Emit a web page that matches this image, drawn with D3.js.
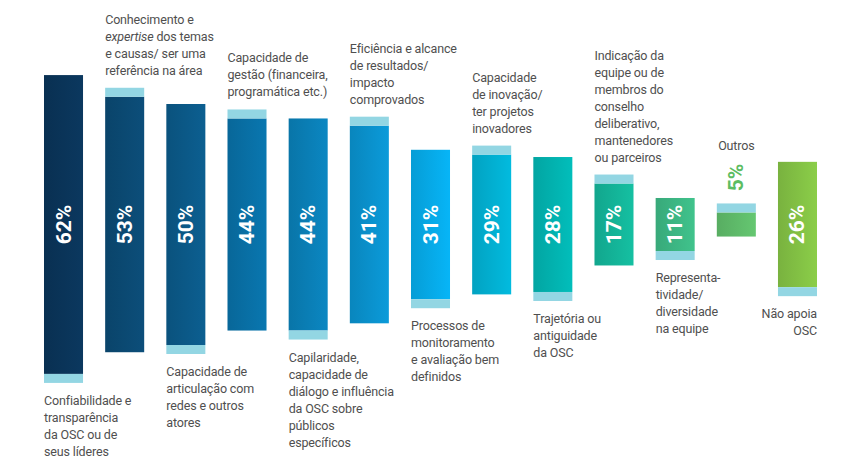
<!DOCTYPE html>
<html>
<head>
<meta charset="utf-8">
<script src="https://cdn.jsdelivr.net/npm/d3@7"></script>
<style>
  html, body { margin: 0; padding: 0; background: #fff; }
  svg { display: block; }
</style>
</head>
<body>
<div id="chart"></div>
<script>
// ---------- DATA ----------
const categories = [
  ["Confiabilidade e", "transparência", "da OSC ou de", "seus líderes"],
  ["Conhecimento e", "*expertise* dos temas", "e causas/ ser uma", "referência na área"],
  ["Capacidade de", "articulação com", "redes e outros", "atores"],
  ["Capacidade de", "gestão (financeira,", "programática etc.)"],
  ["Capilaridade,", "capacidade de", "diálogo e influência", "da OSC sobre", "públicos", "específicos"],
  ["Eficiência e alcance", "de resultados/", "impacto", "comprovados"],
  ["Processos de", "monitoramento", "e avaliação bem", "definidos"],
  ["Capacidade", "de inovação/", "ter projetos", "inovadores"],
  ["Trajetória ou", "antiguidade", "da OSC"],
  ["Indicação da", "equipe ou de", "membros do", "conselho", "deliberativo,", "mantenedores", "ou parceiros"],
  ["Representa-", "tividade/", "diversidade", "na equipe"],
  ["Outros"],
  ["Não apoia", "OSC"]
];
const values = [62, 53, 50, 44, 44, 41, 31, 29, 28, 17, 11, 5, 26];
const valueLabels = ["62%", "53%", "50%", "44%", "44%", "41%", "31%", "29%", "28%", "17%", "11%", "5%", "26%"];
const barColors = ["#0a355a", "#0b4a74", "#0b5a89", "#0971a7", "#0a80b8", "#0a93cf",
                   "#07acea", "#02b1d3", "#02b4b1", "#14b69a", "#3db985", "#60bd6b", "#84c345"];
const capColor = "#93d6e3";

// ---------- LAYOUT ----------
const W = 850, H = 472;
const centerY = 224.5;
const capH = 9;
const lineH = 17;

const svg = d3.select("#chart").append("svg")
  .attr("width", W).attr("height", H)
  .style("font-family", "Roboto, 'Noto Sans', sans-serif");

const idx = values.map((d, i) => i);
const x = d3.scaleBand().domain(idx).range([44, 817]).paddingInner(0.362).paddingOuter(0);
const h = d3.scaleLinear().domain([0, 100]).range([0, 482]);

const defs = svg.append("defs");
barColors.forEach((c, i) => {
  const g = defs.append("linearGradient").attr("id", "g" + i)
    .attr("x1", "0%").attr("x2", "100%").attr("y1", "0%").attr("y2", "0%");
  g.append("stop").attr("offset", "0%").attr("stop-color", d3.color(c).darker(0.25));
  g.append("stop").attr("offset", "100%").attr("stop-color", d3.color(c).brighter(0.15));
});

const data = idx.map(i => {
  const hh = h(values[i]);
  const top = centerY - hh / 2;
  const bottom = centerY + hh / 2;
  const capTop = i % 2 === 1;
  return {
    i, v: values[i], label: valueLabels[i], cat: categories[i],
    x0: x(i), w: x.bandwidth(), top, bottom, hh, capTop,
    outerTop: capTop ? top - capH : top,
    outerBottom: capTop ? bottom : bottom + capH
  };
});

const g = svg.append("g");

// bars
g.selectAll("rect.bar").data(data).join("rect")
  .attr("class", "bar")
  .attr("x", d => d.x0).attr("width", d => d.w)
  .attr("y", d => d.top).attr("height", d => d.hh)
  .attr("fill", d => `url(#g${d.i})`);

// caps
g.selectAll("rect.cap").data(data).join("rect")
  .attr("class", "cap")
  .attr("x", d => d.x0).attr("width", d => d.w)
  .attr("y", d => d.capTop ? d.top - capH : d.bottom)
  .attr("height", capH)
  .attr("fill", capColor);

// value labels
data.forEach(d => {
  const cx = d.x0 + d.w / 2;
  const inside = d.v >= 10;
  const cy = inside ? centerY : d.outerTop - 26;
  g.append("text")
    .attr("transform", `translate(${cx},${cy}) rotate(-90)`)
    .attr("text-anchor", "middle")
    .attr("dominant-baseline", "central")
    .attr("font-size", 21)
    .attr("font-weight", 700)
    .attr("fill", inside ? "#ffffff" : "#5cbd62")
    .text(d.label);
});

// category labels
function addLines(textSel, lines) {
  lines.forEach((ln, k) => {
    const ts = textSel.append("tspan").attr("x", textSel.attr("x")).attr("dy", k === 0 ? 0 : lineH);
    const parts = ln.split(/(\*[^*]+\*)/).filter(p => p.length);
    parts.forEach(p => {
      if (p.startsWith("*")) ts.append("tspan").attr("font-style", "italic").text(p.slice(1, -1));
      else ts.append("tspan").text(p);
    });
  });
}

data.forEach(d => {
  const n = d.cat.length;
  let anchor = "start", tx = d.x0, ty;
  if (d.capTop) {
    if (d.i === 11) {
      ty = d.outerTop - 53;
      anchor = "middle"; tx = d.x0 + d.w / 2;
    } else {
      ty = d.outerTop - 13 - (n - 1) * lineH;
    }
  } else {
    ty = d.outerBottom + 22;
    if (d.i === values.length - 1) { anchor = "end"; tx = d.x0 + d.w; }
  }
  const t = g.append("text")
    .attr("x", tx).attr("y", ty)
    .attr("text-anchor", anchor)
    .attr("font-size", 12.5)
    .attr("letter-spacing", -0.15)
    .attr("fill", "#4f4f4f");
  addLines(t, d.cat);
});
</script>
</body>
</html>
